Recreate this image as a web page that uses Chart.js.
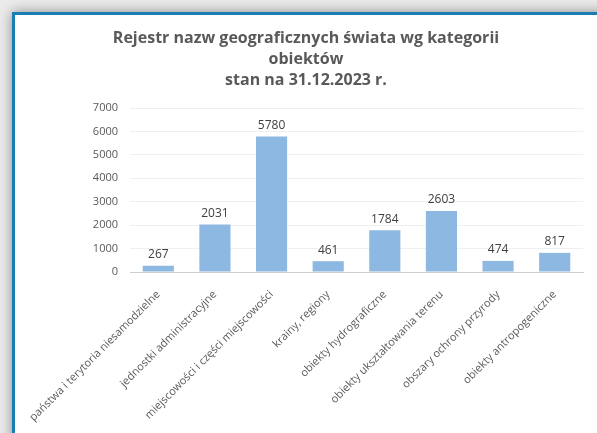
<!DOCTYPE html>
<html>
<head>
<meta charset="utf-8">
<script src="https://cdn.jsdelivr.net/npm/chart.js@4"></script>
<style>
  html, body { margin: 0; padding: 0; }
  body { width: 597px; height: 433px; overflow: hidden; background: #ebebeb; position: relative; }
  .frame {
    position: absolute; left: 12px; top: 12px; width: 620px; height: 460px;
    background: #fff; border-left: 3px solid #1b7db1; border-top: 3px solid #1b7db1;
    box-shadow: 0 0 12px rgba(0,0,0,0.4);
  }
  #wrap { position: absolute; left: 0; top: 0; width: 597px; height: 433px; }
</style>
</head>
<body>
<div class="frame"></div>
<div id="wrap"><canvas id="kategorieChart"></canvas></div>
<script>
var kategorie = [
    'państwa i terytoria niesamodzielne',
    'jednostki administracyjne',
    'miejscowości i części miejscowości',
    'krainy, regiony',
    'obiekty hydrograficzne',
    'obiekty ukształtowania terenu',
    'obszary ochrony przyrody',
    'obiekty antropogeniczne'
];
var liczbaNazw = [267, 2031, 5780, 461, 1784, 2603, 474, 817];
var tytul = ['Rejestr nazw geograficznych świata wg kategorii', 'obiektów', 'stan na 31.12.2023 r.'];

var fontName = '"Open Sans", "Liberation Sans", Arial, sans-serif';

// tytuł w trzech liniach, wyśrodkowany nad ramką
var tytulWykresu = {
    id: 'tytulWykresu',
    afterDraw: function(chart) {
        var ctx = chart.ctx;
        ctx.save();
        ctx.font = 'bold 16px ' + fontName;
        ctx.fillStyle = '#595959';
        ctx.textAlign = 'center';
        ctx.textBaseline = 'middle';
        tytul.forEach(function(linia, i) {
            ctx.fillText(linia, 306, 38 + i * 21);
        });
        ctx.restore();
    }
};

// wartości nad słupkami
var etykietyWartosci = {
    id: 'etykietyWartosci',
    afterDatasetsDraw: function(chart) {
        var ctx = chart.ctx;
        var meta = chart.getDatasetMeta(0);
        ctx.save();
        ctx.font = '12px ' + fontName;
        ctx.fillStyle = '#404040';
        ctx.textAlign = 'center';
        ctx.textBaseline = 'bottom';
        meta.data.forEach(function(bar, i) {
            ctx.fillText(String(liczbaNazw[i]), bar.x, bar.y - 5);
        });
        ctx.restore();
    }
};

var ctx = document.getElementById('kategorieChart').getContext('2d');
var kategorieChart = new Chart(ctx, {
    type: 'bar',
    data: {
        labels: kategorie,
        datasets: [{
            data: liczbaNazw,
            backgroundColor: '#8db8e1',
            borderWidth: 0,
            barPercentage: 0.55,
            categoryPercentage: 1
        }]
    },
    options: {
        responsive: true,
        maintainAspectRatio: false,
        animation: false,
        layout: { padding: { left: 0, right: 14, top: 108, bottom: 0 } },
        plugins: {
            legend: { display: false },
            tooltip: { enabled: false }
        },
        scales: {
            x: {
                grid: { display: false },
                border: { display: true, color: '#cfcfcf' },
                ticks: {
                    color: '#595959',
                    font: { family: fontName, size: 11 },
                    minRotation: 45,
                    maxRotation: 45,
                    autoSkip: false,
                    padding: 8
                },
                afterFit: function(scale) { scale.height = 161; }
            },
            y: {
                min: 0,
                max: 7000,
                ticks: {
                    stepSize: 1000,
                    color: '#595959',
                    font: { family: fontName, size: 11 },
                    padding: 12,
                    callback: function(v) { return String(v); }
                },
                grid: {
                    drawTicks: false,
                    color: function(c) { return c.tick && c.tick.value === 0 ? '#cfcfcf' : '#efefef'; }
                },
                border: { display: false },
                afterFit: function(scale) { scale.width = 130; }
            }
        }
    },
    plugins: [etykietyWartosci, tytulWykresu]
});
</script>
</body>
</html>
